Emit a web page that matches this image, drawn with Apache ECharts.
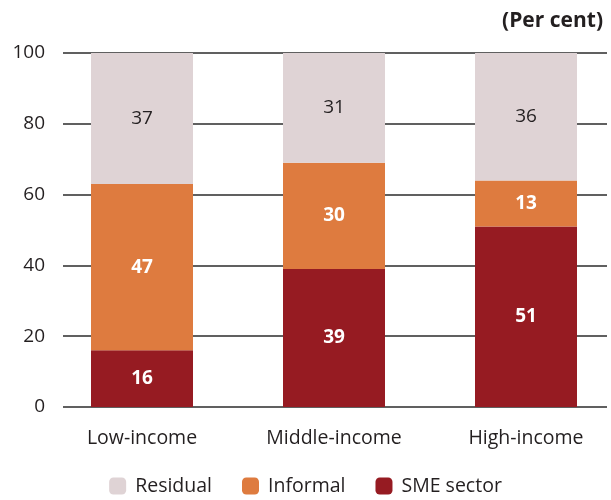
<!DOCTYPE html>
<html>
<head>
<meta charset="utf-8">
<script src="https://cdn.jsdelivr.net/npm/echarts@6/dist/echarts.min.js"></script>
<style>
  html, body { margin: 0; padding: 0; background: #fff; }
  #chart { width: 611px; height: 500px; }
</style>
</head>
<body>
<div id="chart"></div>
<script>
// Share of employment by segment, by country income group
const categories = ['Low-income', 'Middle-income', 'High-income'];
const smeSector = [16, 39, 51];
const informal = [47, 30, 13];
const residual = [37, 31, 36];
const yTicks = [0, 20, 40, 60, 80, 100];

const FONT = '"Open Sans", "Noto Sans", sans-serif';
const TEXT = '#231f20';

const chart = echarts.init(document.getElementById('chart'), null, { renderer: 'canvas' });

function seg(name, data, color, labelColor) {
  return {
    name: name,
    type: 'bar',
    stack: 'total',
    xAxisIndex: 1,
    yAxisIndex: 1,
    barWidth: 102,
    data: data,
    itemStyle: { color: color },
    label: {
      show: true,
      position: 'inside',
      color: labelColor,
      fontFamily: FONT,
      fontSize: 19,
      fontWeight: labelColor === '#fff' ? 'bold' : 'normal'
    }
  };
}

chart.setOption({
  animation: false,
  textStyle: { fontFamily: FONT },
  title: {
    text: '(Per cent)',
    right: 3,
    top: 6,
    textStyle: { fontFamily: FONT, fontSize: 21, fontWeight: 'bold', color: TEXT }
  },
  legend: {
    bottom: -1,
    left: 'center',
    itemWidth: 17,
    itemHeight: 17,
    itemGap: 30,
    textStyle: { fontFamily: FONT, fontSize: 19.5, color: TEXT, padding: [0, 0, 0, 4] },
    data: ['Residual', 'Informal', 'SME sector']
  },
  grid: [
    // gridline frame
    { left: 63, width: 544, top: 53, bottom: 93, containLabel: false, outerBoundsMode: 'none' },
    // bar area (wider than the frame so the bars sit on their own spacing)
    { left: 46, width: 576, top: 53, bottom: 93, containLabel: false, outerBoundsMode: 'none' }
  ],
  xAxis: [
    {
      gridIndex: 0,
      type: 'value',
      min: 0, max: 1,
      show: false
    },
    {
      gridIndex: 1,
      type: 'category',
      data: categories,
      axisLine: { show: false },
      axisTick: { show: false },
      axisLabel: { fontFamily: FONT, fontSize: 19.5, color: TEXT, margin: 21 }
    }
  ],
  yAxis: [
    {
      gridIndex: 0,
      type: 'value',
      min: yTicks[0],
      max: yTicks[yTicks.length - 1],
      interval: 20,
      axisLine: { show: false },
      axisTick: { show: false },
      axisLabel: { fontFamily: FONT, fontSize: 19, color: TEXT, margin: 18 },
      splitLine: { show: true, lineStyle: { color: '#2b2b2b', width: 1.5 } }
    },
    {
      gridIndex: 1,
      type: 'value',
      min: 0, max: 100,
      show: false
    }
  ],
  series: [
    seg('SME sector', smeSector, '#961b22', '#fff'),
    seg('Informal', informal, '#de7b3f', '#fff'),
    seg('Residual', residual, '#dfd3d5', TEXT)
  ]
});
</script>
</body>
</html>
